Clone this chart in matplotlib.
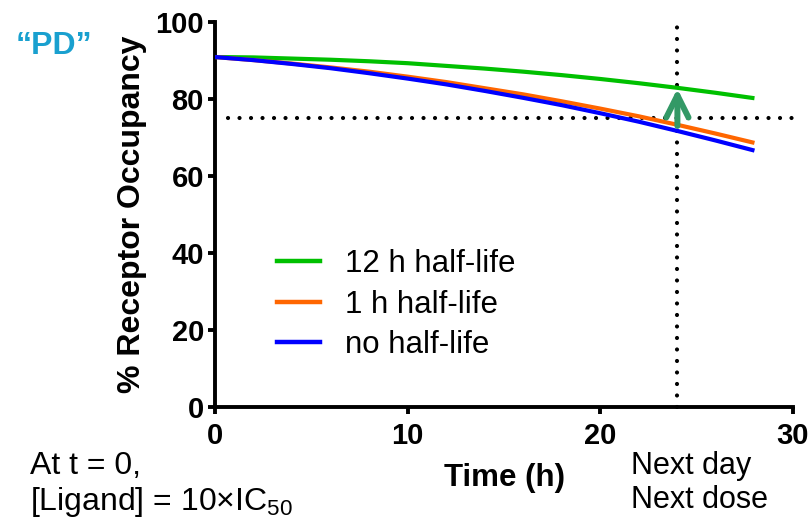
import matplotlib
matplotlib.use("Agg")
import matplotlib.pyplot as plt
from matplotlib.lines import Line2D

plt.rcParams['font.family'] = ['Liberation Sans', 'DejaVu Sans']
plt.rcParams['mathtext.fontset'] = 'custom'
plt.rcParams['mathtext.rm'] = 'Liberation Sans'
plt.rcParams['mathtext.it'] = 'Liberation Sans:italic'
plt.rcParams['mathtext.bf'] = 'Liberation Sans:bold'

# Receptor occupancy (%) sampled every 2 h after dosing
time_h = [0, 2, 4, 6, 8, 10, 12, 14, 16, 18, 20, 22, 24, 26, 28]
occ_12h = [90.9, 90.8, 90.5, 90.2, 89.8, 89.3, 88.6, 87.9, 87.1, 86.2, 85.2, 84.1, 82.9, 81.6, 80.2]
occ_1h = [90.9, 90.1, 89.2, 88.2, 87.1, 85.8, 84.4, 82.8, 81.2, 79.4, 77.5, 75.5, 73.3, 71.0, 68.6]
occ_none = [90.9, 90.1, 89.1, 88.0, 86.7, 85.3, 83.8, 82.1, 80.3, 78.4, 76.3, 74.1, 71.7, 69.2, 66.6]

series_labels = ["12 h half-life", "1 h half-life", "no half-life"]
series_colors = ["#00c000", "#ff6600", "#0000ff"]

threshold = 75          # target occupancy
next_dose_t = 24        # next day / next dose
x_ticks = [0, 10, 20, 30]
y_ticks = [0, 20, 40, 60, 80, 100]

fig = plt.figure(figsize=(8.09, 5.2), dpi=100)
ax = fig.add_axes([215 / 809, 1 - 407 / 520, 578 / 809, 385 / 520])

for ys, lab, col in zip([occ_12h, occ_1h, occ_none], series_labels, series_colors):
    ax.plot(time_h, ys, color=col, lw=3, label=lab, solid_capstyle='butt', zorder=3)

dot_style = dict(color='black', lw=3, ls=(0, (0.01, 2.75)), dash_capstyle='round', zorder=2)
ax.plot([0.7, 30.4], [threshold, threshold], clip_on=False, **dot_style)
ax.plot([next_dose_t, next_dose_t], [0, 100.5], clip_on=False, **dot_style)

# Gain in occupancy at the next dose
ax.annotate('', xy=(next_dose_t, occ_12h[time_h.index(next_dose_t)] - 0.2),
            xytext=(next_dose_t, 73.0),
            arrowprops=dict(arrowstyle='->', color='#339966', lw=4.3,
                            mutation_scale=40, capstyle='round', joinstyle='round',
                            shrinkA=0, shrinkB=0),
            zorder=4)

ax.set_xlim(0, 30)
ax.set_ylim(0, 100)
ax.set_xticks(x_ticks)
ax.set_yticks(y_ticks)
for s in ['top', 'right']:
    ax.spines[s].set_visible(False)
for s in ['left', 'bottom']:
    ax.spines[s].set_linewidth(2.8)
    ax.spines[s].set_capstyle('projecting')
ax.tick_params(axis='both', direction='out', length=5, width=2.8, labelsize=21)
ax.tick_params(axis='x', pad=6)
ax.tick_params(axis='y', pad=3)
for lbl in ax.get_xticklabels() + ax.get_yticklabels():
    lbl.set_fontweight('bold')

ax.set_ylabel('% Receptor Occupancy', fontsize=23, fontweight='bold', labelpad=6)
ax.set_xlabel('Time (h)', fontsize=22.5, fontweight='bold', labelpad=9)

handles = [Line2D([0], [0], color=c, lw=3.2) for c in series_colors]
ax.legend(handles, series_labels, loc='center left', bbox_to_anchor=(0.108, 0.266),
          frameon=False, fontsize=22.5, handlelength=1.35, handletextpad=0.8,
          labelspacing=0.33, borderpad=0, borderaxespad=0)

fig.text(16 / 809, 1 - 46 / 520, '\u201cPD\u201d', color='#19a0cf', fontsize=23,
         fontweight='bold', va='center', ha='left')
fig.text(30 / 809, 1 - 466 / 520, 'At t = 0,', fontsize=23, va='center', ha='left')
fig.text(30 / 809, 1 - 502 / 520, '[Ligand] = 10\u00d7IC$_{50}$', fontsize=23,
         va='center', ha='left')
fig.text(631 / 809, 1 - 466 / 520, 'Next day', fontsize=22, va='center', ha='left')
fig.text(631 / 809, 1 - 500 / 520, 'Next dose', fontsize=22, va='center', ha='left')

fig.savefig('out.png', dpi=100)
